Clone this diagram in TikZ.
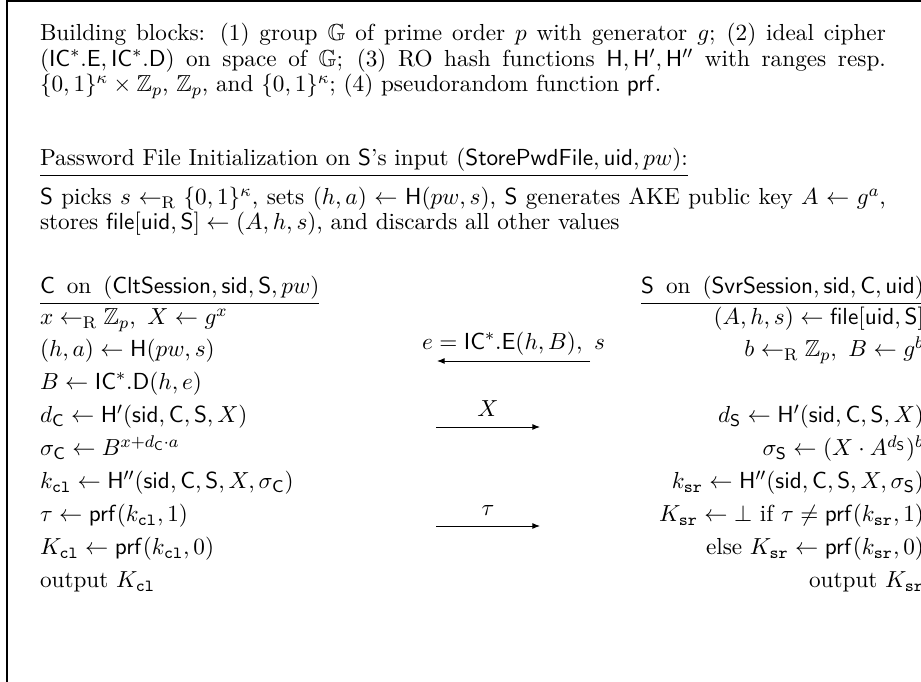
\documentclass[tikz,border=0pt]{standalone}
\usepackage{amsmath,amssymb}
\usetikzlibrary{arrows.meta}
\newcommand{\getsr}{\leftarrow_{\mathrm{R}}}
\newcommand{\kcl}{k_{\mathtt{cl}}}
\newcommand{\ksr}{k_{\mathtt{sr}}}
\newcommand{\Kcl}{K_{\mathtt{cl}}}
\newcommand{\Ksr}{K_{\mathtt{sr}}}
\newcommand{\Ssf}{\mathsf{S}}
\newcommand{\Csf}{\mathsf{C}}
\newcommand{\onsp}{\hspace{2pt} on \hspace{2pt}}
\begin{document}
\begin{tikzpicture}[x=0.4717pt,y=-0.4717pt,
  every node/.style={inner sep=0pt,outer sep=0pt,font=\fontsize{10.95pt}{13pt}\selectfont},
  txt/.style={anchor=base west},
  rtxt/.style={anchor=base east},
  lbl/.style={anchor=base},
  msg/.style={-{Latex[length=3.6pt,width=2.8pt]},line width=0.4pt},
  frame/.style={line width=0.5pt}]
\useasboundingbox (0,0) rectangle (921,682);
\coordinate (fb) at (7,682);
\coordinate (ftl) at (7,1);
\coordinate (ftr) at (921,1);
\draw[frame] (fb) -- (ftl) -- (ftr);

% building blocks
\node[txt] (b1) at (40,41) {\makebox[399pt][s]{Building blocks: (1) group $\mathbb{G}$ of prime order $p$ with generator $g$; (2) ideal cipher}};
\node[txt] (b2) at (40,66.5) {\makebox[399pt][s]{$(\mathsf{IC}^*.\mathsf{E},\mathsf{IC}^*.\mathsf{D})$ on space of $\mathbb{G}$; (3) RO hash functions $\mathsf{H},\mathsf{H}',\mathsf{H}''$ with ranges resp.}};
\node[txt] (b3) at (40,92) {$\{0,1\}^\kappa\times\mathbb{Z}_p$, $\mathbb{Z}_p$, and $\{0,1\}^\kappa$; (4) pseudorandom function $\mathsf{prf}$.};

% password file
\node[txt] (pw) at (40,166) {\underline{Password File Initialization on $\Ssf$'s input $(\mathsf{StorePwdFile},\mathsf{uid},pw)$:}};
\node[txt] (sp1) at (40,205) {\makebox[399pt][s]{$\Ssf$ picks $s\getsr\{0,1\}^\kappa$, sets $(h,a)\leftarrow\mathsf{H}(pw,s)$, $\Ssf$ generates AKE public key $A\leftarrow g^a$,}};
\node[txt] (sp2) at (40,230) {stores $\mathsf{file}[\mathsf{uid},\Ssf]\leftarrow(A,h,s)$, and discards all other values};

% headers
\node[txt] (ch) at (40,294) {\underline{$\Csf$\onsp$(\mathsf{CltSession},\mathsf{sid},\Ssf,pw)$}};
\node[rtxt] (sh) at (924,294) {\underline{$\Ssf$\onsp$(\mathsf{SvrSession},\mathsf{sid},\Csf,\mathsf{uid})$}};

% client column
\node[txt] (c1) at (40,325) {$x\getsr\mathbb{Z}_p,\ X\leftarrow g^x$};
\node[txt] (c2) at (40,357) {$(h,a)\leftarrow\mathsf{H}(pw,s)$};
\node[txt] (c3) at (40,390) {$B\leftarrow\mathsf{IC}^*.\mathsf{D}(h,e)$};
\node[txt] (c4) at (40,423) {$d_{\Csf}\leftarrow\mathsf{H}'(\mathsf{sid},\Csf,\Ssf,X)$};
\node[txt] (c5) at (40,456) {$\sigma_{\Csf}\leftarrow B^{x+d_{\Csf}\cdot a}$};
\node[txt] (c6) at (40,489) {$\kcl\leftarrow\mathsf{H}''(\mathsf{sid},\Csf,\Ssf,X,\sigma_{\Csf})$};
\node[txt] (c7) at (40,522) {$\tau\leftarrow\mathsf{prf}(\kcl,1)$};
\node[txt] (c8) at (40,555) {$\Kcl\leftarrow\mathsf{prf}(\kcl,0)$};
\node[txt] (c9) at (40,588) {output $\Kcl$};

% server column
\node[rtxt] (s1) at (924,325) {$(A,h,s)\leftarrow\mathsf{file}[\mathsf{uid},\Ssf]$};
\node[rtxt] (s2) at (924,357) {$b\getsr\mathbb{Z}_p,\ B\leftarrow g^b$};
\node[rtxt] (s4) at (924,423) {$d_{\Ssf}\leftarrow\mathsf{H}'(\mathsf{sid},\Csf,\Ssf,X)$};
\node[rtxt] (s5) at (924,456) {$\sigma_{\Ssf}\leftarrow(X\cdot A^{d_{\Ssf}})^b$};
\node[rtxt] (s6) at (924,489) {$\ksr\leftarrow\mathsf{H}''(\mathsf{sid},\Csf,\Ssf,X,\sigma_{\Ssf})$};
\node[rtxt] (s7) at (924,522) {$\Ksr\leftarrow\bot$ if $\tau\neq\mathsf{prf}(\ksr,1)$};
\node[rtxt] (s8) at (924,555) {else $\Ksr\leftarrow\mathsf{prf}(\ksr,0)$};
\node[rtxt] (s9) at (924,588) {output $\Ksr$};

% messages
\coordinate (m1a) at (590,361);
\coordinate (m1b) at (437,361);
\draw[msg] (m1a) -- (m1b);
\node[lbl] (m1l) at (513.5,350) {$e=\mathsf{IC}^*.\mathsf{E}(h,B),\ s$};

\coordinate (m2a) at (436,427);
\coordinate (m2b) at (540,427);
\draw[msg] (m2a) -- (m2b);
\node[lbl] (m2l) at (488,417) {$X$};

\coordinate (m3a) at (436,526);
\coordinate (m3b) at (540,526);
\draw[msg] (m3a) -- (m3b);
\node[lbl] (m3l) at (488,516) {$\tau$};
\end{tikzpicture}
\end{document}
